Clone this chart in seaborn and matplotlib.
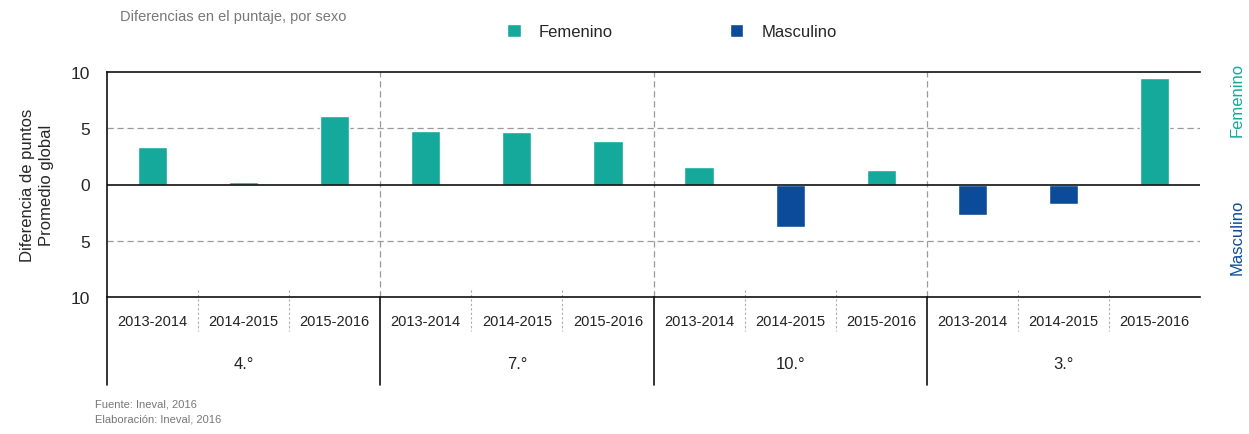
import numpy as np
import pandas as pd
import matplotlib
matplotlib.use("Agg")
import matplotlib.pyplot as plt
import seaborn as sns

# datos
grados = ["4.°", "7.°", "10.°", "3.°"]
periodos = ["2013-2014", "2014-2015", "2015-2016"]
valores = [3.3, 0.2, 6.1,
           4.8, 4.7, 3.9,
           1.6, -3.8, 1.3,
           -2.7, -1.7, 9.5]

TEAL = "#14a99b"
AZUL = "#0c4b99"

filas = []
for i, g in enumerate(grados):
    for j, p in enumerate(periodos):
        v = valores[i * 3 + j]
        filas.append({"pos": f"{g} {p}", "grado": g, "periodo": p, "valor": v,
                      "sexo": "Femenino" if v >= 0 else "Masculino"})
df = pd.DataFrame(filas)

sns.set_style("white")
plt.rcParams['font.family'] = ['Liberation Sans', 'DejaVu Sans']

fig = plt.figure(figsize=(12.49, 4.35), dpi=100)
ax = fig.add_axes([107 / 1249, 1 - 298 / 435, (1200 - 107) / 1249, 225 / 435])

sns.barplot(data=df, x="pos", y="valor", hue="sexo", order=df["pos"],
            hue_order=["Femenino", "Masculino"], palette=[TEAL, AZUL],
            dodge=False, width=0.32, saturation=1, ax=ax)

ax.set_xlim(-0.5, 11.5)
ax.set_ylim(-10, 10)
ax.set_yticks([-10, -5, 0, 5, 10])
ax.set_yticklabels(["10", "5", "0", "5", "10"], fontsize=12.5)
ax.tick_params(axis="y", length=0, pad=12)
ax.set_xticks([])
ax.set_xlabel("")
ax.set_ylabel("Diferencia de puntos\nPromedio global", fontsize=12, labelpad=12,
              linespacing=1.35)

for s in ["top", "left", "bottom"]:
    ax.spines[s].set_color("#111111")
    ax.spines[s].set_linewidth(1.2)
ax.spines["right"].set_visible(False)

ax.axhline(0, color="#111111", lw=1.2)
for yv in [5, -5]:
    ax.axhline(yv, color="#9a9a9a", lw=0.9, ls=(0, (5, 3)), zorder=0)
for xv in [2.5, 5.5, 8.5]:
    ax.axvline(xv, color="#9a9a9a", lw=0.9, ls=(0, (5, 3)), zorder=0)

# tabla de etiquetas bajo el eje
trans = ax.get_xaxis_transform()
for k, row in df.iterrows():
    ax.text(k, -0.105, row["periodo"], transform=trans, ha="center", va="center",
            fontsize=10.5, color="#222222")
for i, g in enumerate(grados):
    ax.text(i * 3 + 1, -0.295, g, transform=trans, ha="center", va="center",
            fontsize=12, color="#222222")
for xv in [-0.5, 2.5, 5.5, 8.5]:
    ax.plot([xv, xv], [0, -0.39], transform=trans, color="#111111", lw=1.2,
            clip_on=False)
for i in range(4):
    for d in [0.5, 1.5]:
        ax.plot([i * 3 + d] * 2, [0.03, -0.15], transform=trans, color="#aaaaaa",
                lw=0.8, ls=(0, (2, 2)), clip_on=False)

# leyenda superior
sns.move_legend(ax, "center", bbox_to_anchor=(0.538, 0.925),
                bbox_transform=fig.transFigure, ncol=2, frameon=False, title=None,
                fontsize=12, handlelength=0.8, handleheight=0.8,
                handletextpad=1.1, columnspacing=7.0)

fig.text(120 / 1249, 1 - 17 / 435, "Diferencias en el puntaje, por sexo",
         fontsize=10.5, color="#777777", ha="left", va="center")
fig.text(1237 / 1249, 1 - 100 / 435, "Femenino", rotation=90, fontsize=12,
         color=TEAL, ha="center", va="center")
fig.text(1237 / 1249, 1 - 237 / 435, "Masculino", rotation=90, fontsize=12,
         color=AZUL, ha="center", va="center")
fig.text(95 / 1249, 1 - 405 / 435, "Fuente: Ineval, 2016", fontsize=8,
         color="#777777", ha="left", va="center")
fig.text(95 / 1249, 1 - 420 / 435, "Elaboración: Ineval, 2016", fontsize=8,
         color="#777777", ha="left", va="center")

fig.savefig("out.png", dpi=100)
